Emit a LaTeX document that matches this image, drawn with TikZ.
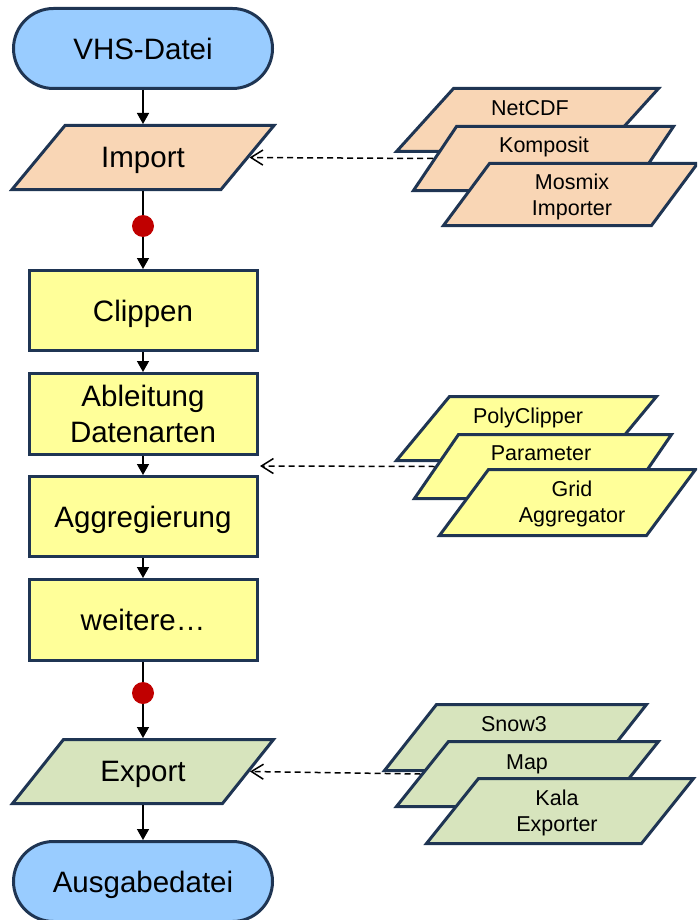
\documentclass[tikz,border=0pt]{standalone}
\usepackage{fontspec}
\setmainfont{Liberation Sans}
\usetikzlibrary{arrows.meta}
\definecolor{bordercol}{HTML}{1F3553}
\definecolor{bluefill}{HTML}{99CCFF}
\definecolor{peachfill}{HTML}{F9D6B5}
\definecolor{yellowfill}{HTML}{FFFF99}
\definecolor{greenfill}{HTML}{D7E4BD}
\definecolor{reddot}{HTML}{C00000}
\tikzset{
  base/.style={draw=bordercol, line width=3pt, inner sep=0pt, align=center},
  bigtext/.style={font=\fontsize{29.5}{35.4}\selectfont, text depth=0pt},
  smalltext/.style={font=\fontsize{21.5}{25.8}\selectfont, text depth=0pt, align=center, inner sep=0pt},
  terminal/.style={base, bigtext, fill=bluefill, rounded corners=40pt,
    minimum width=259pt, minimum height=80pt},
  procbox/.style={base, bigtext, fill=yellowfill, minimum width=228pt, minimum height=80pt},
  paraline/.style={draw=bordercol, line width=3pt, line join=miter},
  paratext/.style={bigtext, inner sep=0pt, outer sep=0pt, minimum height=67pt, align=center},
  flow/.style={line width=1.5pt, -{Triangle[width=12pt,length=11pt]}},
  plainline/.style={line width=1.5pt},
  plug/.style={line width=1.5pt, dash pattern=on 6pt off 4pt,
    -{Straight Barb[length=12pt,width=15pt,line width=1.5pt]}},
  dot/.style={circle, fill=reddot, minimum size=22pt, inner sep=0pt}
}
% name, cx, cy, total width, height, slant, fill
\newcommand\paradraw[7]{%
  \path[paraline, fill=#7]
    ({#2-(#4-3)/2}, {#3+(#5-3)/2}) -- ({#2-(#4-3)/2+#6}, {#3-(#5-3)/2})
    -- ({#2+(#4-3)/2}, {#3-(#5-3)/2}) -- ({#2+(#4-3)/2-#6}, {#3+(#5-3)/2}) -- cycle;
  \coordinate (#1-w) at ({#2-(#4-3)/2+#6/2-2}, #3);
  \coordinate (#1-e) at ({#2+(#4-3)/2-#6/2+2}, #3);
}
\begin{document}
\begin{tikzpicture}[x=1pt,y=-1pt]
\useasboundingbox (0,0) rectangle (697,920);
\clip (0,0) rectangle (697,920);

% main column
\node[terminal] (vhs) at (143,48.5) {VHS-Datei};
\paradraw{impshape}{143}{157.5}{265}{67}{53}{peachfill}
\node[paratext] (imp) at (143,157.5) {Import};
\node[dot] (d1) at (143,226) {};
\node[procbox] (clip) at (143,310.5) {Clippen};
\node[procbox, minimum height=81pt] (abl) at (143,414) {Ableitung\\Datenarten};
\node[procbox] (agg) at (143,516.5) {Aggregierung};
\node[procbox, minimum height=81pt] (wei) at (143,620) {weitere\dots};
\node[dot] (d2) at (143,693) {};
\paradraw{expshape}{143}{771.5}{264}{67}{51}{greenfill}
\node[paratext] (exp) at (143,771.5) {Export};
\node[terminal] (aus) at (143,881.5) {Ausgabedatei};

\draw[flow] (vhs) -- (imp);
\draw[plainline] (imp) -- (d1);
\draw[flow] (d1) -- (clip);
\draw[flow] (clip) -- (abl);
\draw[flow] (abl) -- (agg);
\draw[flow] (agg) -- (wei);
\draw[plainline] (wei) -- (d2);
\draw[flow] (d2) -- (exp);
\draw[flow] (exp) -- (aus);

% importer group
\paradraw{netcdf}{527.5}{120}{265}{66}{57}{peachfill}
\node[smalltext] (tnetcdf) at (530,107.5) {NetCDF};
\paradraw{komp}{543.5}{158.5}{263}{67}{43}{peachfill}
\node[smalltext] (tkomp) at (544,145) {Komposit};
\paradraw{mosmix}{570.5}{194.5}{257}{65}{46}{peachfill}
\node[smalltext] (tmosmix) at (572,194.5) {Mosmix\\Importer};

% processing group
\paradraw{poly}{526.5}{428.5}{263}{67}{53}{yellowfill}
\node[smalltext] (tpoly) at (528,416) {PolyClipper};
\paradraw{param}{543}{466.5}{260}{67}{44}{yellowfill}
\node[smalltext] (tparam) at (541,453) {Parameter};
\paradraw{grid}{567.5}{502.5}{259}{69}{49}{yellowfill}
\node[smalltext] (tgrid) at (572,502) {Grid\\Aggregator};

% exporter group
\paradraw{snow}{515.5}{737.5}{265}{69}{52}{greenfill}
\node[smalltext] (tsnow) at (514,724) {Snow3};
\paradraw{map}{527.5}{774}{265}{68}{52}{greenfill}
\node[smalltext] (tmap) at (527,762) {Map};
\paradraw{kala}{560}{811}{270}{68}{52}{greenfill}
\node[smalltext] (tkala) at (557,811) {Kala\\Exporter};

% plug-in connectors
\coordinate (gap) at (260,466);
\draw[plug] (komp-w) -- (impshape-e);
\draw[plug] (param-w) -- (gap);
\draw[plug] (map-w) -- (expshape-e);
\end{tikzpicture}
\end{document}
